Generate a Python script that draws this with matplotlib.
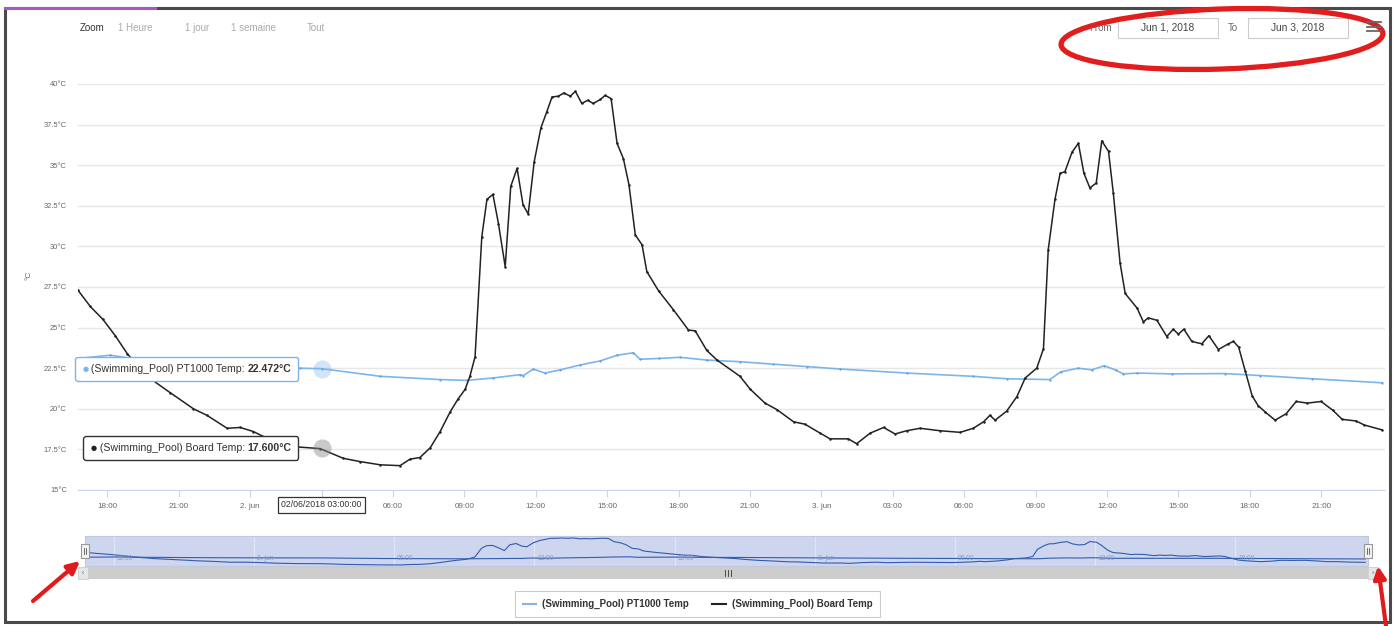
import numpy as np
import matplotlib
matplotlib.use("Agg")
import matplotlib.pyplot as plt
import matplotlib.dates as mdates
from matplotlib.ticker import FuncFormatter
from matplotlib.patches import Rectangle, Ellipse, FancyArrowPatch
from matplotlib.offsetbox import TextArea, HPacker, AnnotationBbox
from matplotlib.lines import Line2D
from matplotlib.transforms import blended_transform_factory

plt.rcParams['font.family'] = ['Liberation Sans', 'DejaVu Sans']

W, H = 1397, 626

# hours since 2018-06-01 00:00 and temperatures
board_hours = [16.77, 17.28, 17.82, 18.33, 18.83, 19.67, 20.64, 21.61, 22.19, 23.03, 23.58,
               24.13, 24.97, 25.81, 26.94, 27.91, 28.62, 29.46, 30.30, 30.72, 31.14,
               31.56, 31.98, 32.40, 32.74, 33.03, 33.24, 33.45, 33.74, 33.95, 34.20,
               34.43, 34.71, 34.95, 35.21, 35.46, 35.69, 35.93, 36.21, 36.47, 36.68,
               36.95, 37.19, 37.45, 37.66, 37.94, 38.19, 38.42, 38.71, 38.92, 39.16,
               39.41, 39.68, 39.92, 40.18, 40.46, 40.67, 41.16, 41.79, 42.42, 42.70,
               43.19, 43.61, 44.59, 45.01, 45.64, 46.13, 46.83, 47.32, 47.95, 48.37,
               49.14, 49.49, 50.05, 50.61, 51.10, 51.59, 52.15, 52.99, 53.83, 54.39,
               54.81, 55.09, 55.30, 55.79, 56.21, 56.56, 57.05, 57.33, 57.54, 57.82,
               58.03, 58.24, 58.53, 58.80, 59.04, 59.29, 59.55, 59.79, 60.06, 60.27,
               60.55, 60.76, 61.26, 61.53, 61.74, 62.10, 62.52, 62.79, 63.00, 63.24,
               63.57, 63.99, 64.29, 64.68, 65.10, 65.32, 65.53, 65.81, 66.10, 66.35,
               66.65, 67.07, 67.53, 67.95, 68.41, 69.00, 69.50, 69.88, 70.47, 70.81, 71.56]
board_temp = [27.3, 26.3, 25.5, 24.5, 23.4, 22.0, 21.0, 20.0, 19.6, 18.8, 18.85,
              18.6, 18.0, 17.67, 17.55, 16.95, 16.75, 16.55, 16.5, 16.9, 17.0,
              17.6, 18.6, 19.8, 20.6, 21.2, 22.0, 23.2, 30.6, 32.9, 33.2,
              31.4, 28.75, 33.7, 34.8, 32.55, 32.0, 35.2, 37.3, 38.3, 39.2,
              39.25, 39.45, 39.25, 39.55, 38.8, 39.0, 38.8, 39.05, 39.3, 39.1,
              36.35, 35.4, 33.8, 30.7, 30.1, 28.45, 27.25, 26.1, 24.85, 24.8,
              23.6, 23.0, 22.0, 21.2, 20.35, 19.95, 19.2, 19.05, 18.5, 18.15,
              18.15, 17.85, 18.5, 18.85, 18.45, 18.65, 18.8, 18.65, 18.55, 18.8,
              19.2, 19.6, 19.3, 19.85, 20.75, 21.9, 22.5, 23.7, 29.8, 32.9,
              34.5, 34.6, 35.8, 36.35, 34.5, 33.6, 33.9, 36.5, 35.85, 33.3,
              29.0, 27.1, 26.2, 25.35, 25.6, 25.45, 24.45, 24.9, 24.6, 24.9,
              24.15, 24.0, 24.5, 23.65, 24.0, 24.15, 23.8, 22.3, 20.8, 20.2,
              19.8, 19.3, 19.7, 20.45, 20.35, 20.45, 19.9, 19.35, 19.25, 19.0, 18.7]

pool_hours = [16.77, 18.12, 19.25, 21.90, 24.42, 26.10, 27.00, 29.46, 31.98, 33.10,
              34.22, 35.34, 35.48, 35.90, 36.39, 37.03, 37.87, 38.71, 39.41, 40.10,
              40.39, 41.16, 42.07, 43.19, 44.59, 45.97, 47.39, 48.79, 51.59, 54.39,
              55.79, 57.60, 58.05, 58.78, 59.37, 59.88, 60.39, 60.69, 61.28, 62.74,
              64.95, 66.42, 68.62, 71.56]
pool_temp = [23.1, 23.3, 23.05, 22.7, 22.55, 22.5, 22.47, 22.0, 21.8, 21.75,
             21.9, 22.1, 22.05, 22.45, 22.2, 22.4, 22.7, 22.95, 23.3, 23.45,
             23.05, 23.1, 23.17, 23.0, 22.9, 22.75, 22.6, 22.45, 22.2, 22.0,
             21.85, 21.8, 22.27, 22.5, 22.4, 22.65, 22.38, 22.15, 22.2, 22.15,
             22.17, 22.05, 21.85, 21.6]

y_ticks = [15, 17.5, 20, 22.5, 25, 27.5, 30, 32.5, 35, 37.5, 40]
view_start = np.datetime64('2018-06-01T16:46')
view_end = np.datetime64('2018-06-03T23:41')

hover_hour = 27.0
hover_label = '02/06/2018 03:00:00'
pool_hover = 22.472
board_hover = 17.6
pool_name = '(Swimming_Pool) PT1000 Temp'
board_name = '(Swimming_Pool) Board Temp'

zoom_buttons = ['1 Heure', '1 jour', '1 semaine', 'Tout']
zoom_x = [118, 185, 231, 307]
date_from = 'Jun 1, 2018'
date_to = 'Jun 3, 2018'

t0 = np.datetime64('2018-06-01T00:00')


def to_time(hours):
    mins = np.round(np.asarray(hours, dtype=float) * 60).astype(int)
    return t0 + mins.astype('timedelta64[m]')


def px_rect(x0, y0, x1, y1):
    return [x0 / W, 1 - y1 / H, (x1 - x0) / W, (y1 - y0) / H]


def fmt_time(v, pos=None):
    d = mdates.num2date(v)
    if d.hour == 0 and d.minute == 0:
        return '%d. jun' % d.day
    return d.strftime('%H:%M')


bt = to_time(board_hours)
pt = to_time(pool_hours)
ht = to_time([hover_hour])[0]
ht_num = mdates.date2num(ht)


def fmt_main(v, pos=None):
    # the crosshair label hides the tick under it
    if abs(v - ht_num) < 1e-6:
        return ''
    return fmt_time(v)


fig = plt.figure(figsize=(W / 100, H / 100), dpi=100)
fig.patch.set_facecolor('white')

# main chart
ax = fig.add_axes(px_rect(78, 84, 1385, 490))
ax.plot(pt, pool_temp, color='#7cb5ec', lw=1.2, marker='o', ms=1.6,
        mfc='#5f9fdd', mec='none', zorder=3)
ax.plot(bt, board_temp, color='#222222', lw=1.1, marker='o', ms=0.8, zorder=3)
ax.set_ylim(15, 40)
ax.set_xlim(view_start, view_end)
ax.set_yticks(y_ticks)
ax.set_yticklabels(['%g°C' % v for v in y_ticks])
ax.grid(axis='y', color='#e6e6e6', lw=1)
ax.set_axisbelow(True)
for s in ['top', 'right', 'left']:
    ax.spines[s].set_visible(False)
ax.spines['bottom'].set_color('#ccd6eb')
ax.tick_params(axis='y', length=0, labelsize=5.4, colors='#666666', pad=8)
ax.tick_params(axis='x', length=5, color='#ccd6eb', labelsize=5.8,
               labelcolor='#666666', pad=4)
ax.xaxis.set_major_locator(mdates.HourLocator(byhour=range(0, 24, 3)))
ax.xaxis.set_major_formatter(FuncFormatter(fmt_main))
ax.set_ylabel('°C', fontsize=6, color='#666666')
ax.yaxis.set_label_coords(-0.035, 0.53)

# hover halos and tooltips
ax.scatter([ht], [pool_hover], s=170, color='#7cb5ec', alpha=0.35, lw=0, zorder=4)
ax.scatter([ht], [board_hover], s=170, color='#888888', alpha=0.45, lw=0, zorder=4)


def tooltip(t, v, name, value, color, edge):
    parts = [TextArea('●', textprops=dict(color=color, fontsize=5, family='DejaVu Sans')),
             TextArea(' %s: ' % name, textprops=dict(color='#333333', fontsize=7.6)),
             TextArea(value, textprops=dict(color='#333333', fontsize=7.6, weight='bold'))]
    box = HPacker(children=parts, align='center', pad=0, sep=0)
    ab = AnnotationBbox(box, (t, v), xybox=(-30, 0), boxcoords='offset pixels',
                        box_alignment=(1, 0.5), frameon=True, pad=0.45,
                        bboxprops=dict(ec=edge, fc='white', lw=1,
                                       boxstyle='round,pad=0.5,rounding_size=0.2'),
                        zorder=8)
    ax.add_artist(ab)


tooltip(ht, pool_hover, pool_name, '%.3f°C' % pool_hover, '#7cb5ec', '#7cb5ec')
tooltip(ht, board_hover, board_name, '%.3f°C' % board_hover, '#222222', '#333333')

ax.annotate(hover_label, xy=(ht, 15), xytext=(0, -15), textcoords='offset pixels',
            ha='center', va='center', fontsize=6.3, color='#333333',
            bbox=dict(boxstyle='square,pad=0.35', fc='white', ec='#333333', lw=0.9),
            annotation_clip=False, zorder=9)

# navigator
nav = fig.add_axes(px_rect(85, 536, 1368, 566))
nav.set_facecolor('#cdd6ee')
nav.plot(bt, board_temp, color='#335cad', lw=0.8)
nav.plot(pt, pool_temp, color='#335cad', lw=0.8)
nav.set_xlim(view_start, view_end)
nav.set_ylim(15.6, 41.2)
nav.xaxis.set_major_locator(mdates.HourLocator(byhour=[0, 6, 12, 18]))
nav.grid(axis='x', color='#dfe5f4', lw=1)
nav.tick_params(length=0, labelbottom=False, labelleft=False)
for s in nav.spines.values():
    s.set_color('#c0c8dc')
    s.set_linewidth(0.8)
tr = blended_transform_factory(nav.transData, nav.transAxes)
for v in nav.get_xticks():
    nav.annotate(fmt_time(v), xy=(v, 0.25), xycoords=tr, xytext=(3, 0),
                 textcoords='offset pixels', fontsize=4.8, color='#8a98c4',
                 ha='left', va='center')

# legend
handles = [Line2D([], [], color='#7cb5ec', lw=1.5), Line2D([], [], color='#222222', lw=1.5)]
leg = fig.legend(handles, [pool_name, board_name], loc='center',
                 bbox_to_anchor=(697.5 / W, 1 - 604 / H), ncol=2,
                 prop={'size': 7.0, 'weight': 'bold'}, labelcolor='#333333',
                 frameon=True, fancybox=False, edgecolor='#cccccc', framealpha=1,
                 handlelength=1.4, handletextpad=0.6, columnspacing=2.4, borderpad=0.8)
leg.get_frame().set_linewidth(0.8)

# overlay in pixel coordinates for the page decorations
ov = fig.add_axes([0, 0, 1, 1], zorder=10)
ov.set_xlim(0, W)
ov.set_ylim(H, 0)
ov.axis('off')

ov.add_patch(Rectangle((5, 8), 1385, 614, fill=False, ec='#4a4a4a', lw=2.2))
ov.plot([5, 155], [8, 8], color='#a35bbf', lw=2.2)

ov.text(80, 28, 'Zoom', fontsize=7, color='#333333', va='center')
for lbl, x in zip(zoom_buttons, zoom_x):
    ov.text(x, 28, lbl, fontsize=7, color='#aaaaaa', va='center')

ov.text(1112, 28, 'From', fontsize=7, color='#666666', va='center', ha='right')
ov.add_patch(Rectangle((1118, 18), 100, 20, fc='white', ec='#cccccc', lw=0.8))
ov.text(1168, 28, date_from, fontsize=7.3, color='#444444', va='center', ha='center')
ov.text(1228, 28, 'To', fontsize=7, color='#666666', va='center')
ov.add_patch(Rectangle((1248, 18), 100, 20, fc='white', ec='#cccccc', lw=0.8))
ov.text(1298, 28, date_to, fontsize=7.3, color='#444444', va='center', ha='center')
for y in [22, 26.5, 31]:
    ov.plot([1367, 1381], [y, y], color='#666666', lw=1.3)

ov.add_patch(Ellipse((1222, 39), 322, 60, angle=-2, fill=False, ec='#e11d1d', lw=3.8))

# scrollbar and navigator handles
ov.add_patch(Rectangle((78, 567), 1300, 12, fc='#f2f2f2', ec='none'))
ov.add_patch(Rectangle((88, 567), 1280, 12, fc='#cccccc', ec='none'))
for bx, arrow in [(78, '‹'), (1368, '›')]:
    ov.add_patch(Rectangle((bx, 567), 10, 12, fc='#e6e6e6', ec='#cccccc', lw=0.6))
    ov.text(bx + 5, 573, arrow, fontsize=5, color='#666666', ha='center', va='center')
for gx in [725, 728, 731]:
    ov.plot([gx, gx], [570, 576], color='#333333', lw=0.6)
for hx in [85, 1368]:
    ov.add_patch(Rectangle((hx - 4, 544), 8, 14, fc='#f2f2f2', ec='#999999', lw=0.8))
    ov.plot([hx - 1.2, hx - 1.2], [548, 554], color='#333333', lw=0.5)
    ov.plot([hx + 1.2, hx + 1.2], [548, 554], color='#333333', lw=0.5)

# red arrows
for p0, p1 in [((33, 601), (80, 561)), ((1386, 626), (1378, 566))]:
    ov.add_patch(FancyArrowPatch(p0, p1, arrowstyle='-|>', mutation_scale=18,
                                 lw=3, color='#e01b1b', shrinkA=0, shrinkB=0))

fig.savefig('out.png', dpi=100, facecolor='white')
